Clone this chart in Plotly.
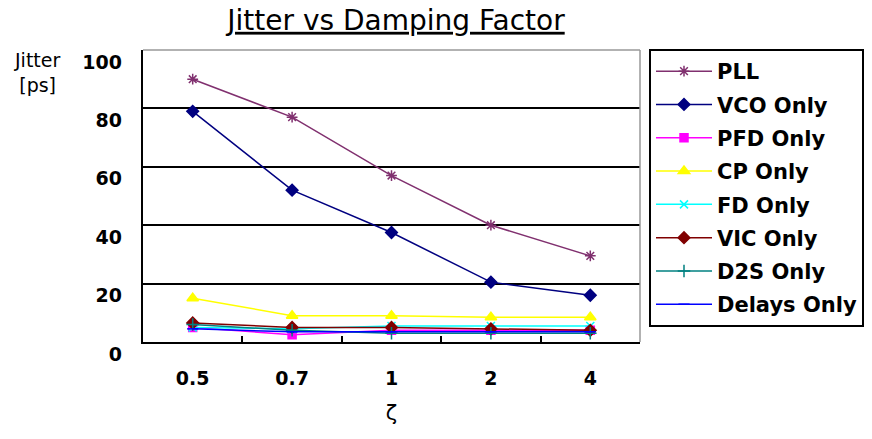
import plotly.graph_objects as go

categories = ["0.5", "0.7", "1", "2", "4"]
series_names = ["PLL", "VCO Only", "PFD Only", "CP Only", "FD Only", "VIC Only", "D2S Only", "Delays Only"]
pll = [90, 77, 57, 40, 29.5]
vco = [79, 52, 37.5, 20.5, 16]
pfd = [5, 2.5, 4, 4, 4]
cp = [15, 9, 9, 8.5, 8.5]
fd = [5, 4.5, 5.5, 5.5, 5.5]
vic = [6.5, 5, 5, 4.5, 4]
d2s = [6, 4, 3, 3, 3]
delays = [4.5, 3.5, 3.5, 3.5, 3.5]
y_ticks = [0, 20, 40, 60, 80, 100]

values = [pll, vco, pfd, cp, fd, vic, d2s, delays]
colors = ["#80306f", "#000080", "#ff00ff", "#ffff00", "#00ffff", "#800000", "#008080", "#0000ff"]
symbols = ["asterisk-open", "diamond", "square", "triangle-up", "x-thin-open", "diamond", "cross-thin-open", "line-ew-open"]
sizes = [9, 9, 8, 10, 8, 9, 9, 8]

FONT = "DejaVu Sans"
W, H = 872, 439
L, R, T = 143, 232, 50
PLOT_BOTTOM = 342
SHIFT = 12
B = H - PLOT_BOTTOM - SHIFT
ph = H - T - B
d = SHIFT / ph

fig = go.Figure()
for name, vals, c, s, sz in zip(series_names, values, colors, symbols, sizes):
    fig.add_trace(go.Scatter(
        x=categories, y=vals, name=name, mode="lines+markers",
        line=dict(color=c, width=1.5),
        marker=dict(symbol=s, size=sz, color=c, line=dict(color=c, width=1.5)),
        legendgroup=name,
    ))

# invisible trace to attach the shifted tick-label axis
fig.add_trace(go.Scatter(x=categories, y=[None] * len(categories), yaxis="y2",
                         showlegend=False, hoverinfo="skip"))

fig.update_layout(
    width=W, height=H,
    margin=dict(l=L, r=R, t=T, b=B, pad=0, autoexpand=False),
    paper_bgcolor="white", plot_bgcolor="rgba(0,0,0,0)",
    title=dict(text="<u>Jitter vs Damping Factor</u>", x=396 / W, xanchor="center",
               y=1 - 20 / H, yanchor="middle",
               font=dict(family=FONT, size=28, color="black")),
    xaxis=dict(
        type="category", range=[-0.5, 4.5], anchor="y",
        showline=True, linecolor="black", linewidth=2, mirror=False,
        ticks="inside", tickson="boundaries", ticklen=6, tickcolor="black", tickwidth=1.5,
        showgrid=False, zeroline=False,
        tickfont=dict(family=FONT, size=19, color="black", weight="bold"),
        ticklabelstandoff=18,
        title=dict(text="ζ", font=dict(family=FONT, size=21, color="black"), standoff=18),
    ),
    yaxis=dict(
        domain=[d, 1], range=[0, 100], tickvals=y_ticks, showticklabels=False,
        showline=True, linecolor="black", linewidth=2,
        showgrid=True, gridcolor="black", gridwidth=1.5, zeroline=False, ticks="",
    ),
    yaxis2=dict(
        domain=[0, 1 - d], range=[0, 100], tickvals=y_ticks, anchor="x",
        showgrid=False, showline=False, zeroline=False, ticks="",
        tickfont=dict(family=FONT, size=19, color="black", weight="bold"),
        ticklabelstandoff=20,
    ),
    legend=dict(
        x=(649 - L) / (W - L - R), y=(PLOT_BOTTOM - 49) / (PLOT_BOTTOM - T) * (1 - d) + d,
        xanchor="left", yanchor="top",
        bordercolor="black", borderwidth=2, bgcolor="white",
        font=dict(family=FONT, size=21, color="black", weight="bold"),
        tracegroupgap=3, itemwidth=56, maxheight=420,
    ),
    showlegend=True,
)

# gray frame on top and right of plot area
fig.add_shape(type="line", xref="paper", yref="paper", x0=0, x1=1, y0=1, y1=1,
              line=dict(color="#999999", width=1.5))
fig.add_shape(type="line", xref="paper", yref="paper", x0=1, x1=1, y0=d, y1=1,
              line=dict(color="#999999", width=1.5))

fig.add_annotation(text="Jitter<br>[ps]", xref="paper", yref="paper",
                   x=-(L - 12) / (W - L - R), y=1 + 3 / ph, xanchor="left", yanchor="top",
                   showarrow=False, align="center",
                   font=dict(family=FONT, size=19, color="black"))

fig.write_html("out.html")
